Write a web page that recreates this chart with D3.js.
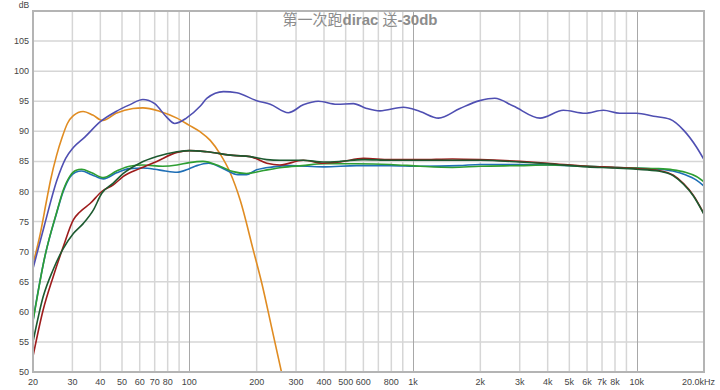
<!DOCTYPE html>
<html>
<head>
<meta charset="utf-8">
<script src="https://cdn.jsdelivr.net/npm/d3@7"></script>
<style>
  html, body { margin: 0; padding: 0; background: #fff; }
  svg { display: block; }
  text { font-family: "Liberation Sans", Arial, sans-serif; }
</style>
</head>
<body>
<div id="chart"></div>
<script>
// frequency response traces (Hz, dB)
const orangeHz = [20, 21.5, 23, 24, 25.5, 27, 28.5, 30.3, 33.5, 37, 41, 47, 56, 62, 74, 88, 100, 112, 124, 137, 152, 169, 193, 211, 233, 260];
const orangeDb = [68, 72.8, 78.5, 82, 86, 89, 91.3, 92.6, 93.3, 92.7, 91.8, 93.0, 93.8, 93.9, 93.3, 92.2, 91.0, 89.9, 88.5, 86.3, 83.2, 78.5, 70.3, 64.7, 57.5, 49.5];

const purpleHz = [20, 22.5, 25.6, 28, 30.3, 34, 40, 47, 54, 62, 70, 79, 86, 97, 112, 120, 142, 163, 200, 230, 277, 323, 377, 456, 541, 621, 711, 906, 1075, 1300, 1620, 1990, 2320, 2810, 3700, 4700, 5880, 7100, 8400, 10000, 11900, 14100, 16200, 18500, 20000];
const purpleDb = [67.2, 74.4, 81.9, 85.5, 87.3, 89.0, 91.6, 93.3, 94.4, 95.3, 94.6, 92.4, 91.3, 92.2, 94.2, 95.5, 96.6, 96.4, 95.1, 94.5, 93.1, 94.4, 95.0, 94.5, 94.6, 93.8, 93.4, 94.0, 93.3, 92.2, 93.8, 95.1, 95.5, 94.2, 92.2, 93.5, 93.0, 93.5, 93.0, 93.0, 92.5, 92.0, 90.2, 87.4, 85.3];

const tealHz = [20, 22.6, 25.5, 27.3, 29.3, 31, 33, 36.6, 41.3, 47.3, 54, 62, 70, 78, 88, 100, 108, 122, 142, 165, 180, 200, 237, 282, 400, 560, 790, 1075, 1600, 2000, 3000, 4000, 6000, 8000, 10000, 12500, 14500, 16500, 18500, 20000];
const tealDb = [58.6, 69.2, 76.4, 80.0, 82.4, 83.2, 83.4, 82.8, 82.1, 83.1, 83.8, 83.9, 83.7, 83.4, 83.2, 83.8, 84.3, 84.7, 83.8, 82.8, 82.8, 83.6, 84.1, 84.3, 84.1, 84.3, 84.3, 84.2, 84.3, 84.5, 84.5, 84.4, 84.2, 84.0, 83.9, 83.7, 83.4, 82.8, 81.9, 80.9];

const greenHz = [20, 22.6, 25.5, 27.3, 29.3, 31, 33, 36.6, 41.3, 47.3, 54, 62, 76, 88, 100, 115, 137, 157, 180, 215, 260, 320, 400, 560, 790, 1075, 1500, 2000, 3000, 4000, 6000, 8000, 10000, 12500, 14500, 16500, 18500, 20000];
const greenDb = [58.4, 69.2, 76.5, 80.2, 82.6, 83.5, 83.7, 83.1, 82.3, 83.4, 84.2, 84.4, 84.2, 84.4, 84.8, 85.0, 84.2, 83.3, 83.0, 83.5, 84.0, 84.3, 84.6, 84.6, 84.5, 84.2, 84.0, 84.2, 84.3, 84.4, 84.2, 84.0, 83.9, 83.8, 83.6, 83.2, 82.5, 81.6];

const redHz = [20, 22.2, 24.6, 27.3, 30.3, 32.4, 36, 40.6, 45.7, 50.7, 60, 71.5, 88, 100, 120, 157, 187, 222, 254, 323, 397, 472, 601, 789, 1075, 1500, 2000, 3000, 4000, 6000, 8000, 10000, 12500, 14600, 16200, 17900, 20000];
const redDb = [52.6, 60.3, 65.8, 70.8, 75.3, 76.6, 78.0, 80.0, 81.1, 82.5, 83.8, 85.0, 86.5, 86.8, 86.6, 86.0, 85.8, 84.7, 84.4, 85.2, 84.7, 84.9, 85.5, 85.3, 85.3, 85.4, 85.3, 85.0, 84.7, 84.2, 84.0, 83.8, 83.5, 82.7, 81.3, 79.4, 76.3];

const darkGreenHz = [20, 22.2, 24.6, 27.3, 30.3, 33.6, 37.2, 40.6, 45.7, 50.7, 60, 71.5, 88, 100, 120, 157, 187, 222, 254, 323, 397, 472, 601, 789, 1075, 1500, 2000, 3000, 4000, 6000, 8000, 10000, 12500, 14600, 16200, 17900, 20000];
const darkGreenDb = [55.0, 62.5, 67.0, 70.5, 73.0, 74.7, 76.9, 79.7, 81.4, 83.0, 84.7, 85.8, 86.6, 86.8, 86.6, 86.0, 85.8, 85.3, 85.2, 85.2, 84.9, 85.0, 85.3, 85.2, 85.2, 85.2, 85.2, 84.9, 84.6, 84.1, 83.9, 83.7, 83.4, 82.6, 81.2, 79.3, 76.2];

// axes
const yTicks = [50, 55, 60, 65, 70, 75, 80, 85, 90, 95, 100, 105];
const xGrid = [30, 40, 50, 60, 70, 80, 90, 200, 300, 400, 500, 600, 700, 800, 900,
               2000, 3000, 4000, 5000, 6000, 7000, 8000, 9000];
const xMajor = [100, 1000, 10000];
const xTickVals = [20, 30, 40, 50, 60, 70, 80, 100, 200, 300, 400, 500, 600, 800, 1000,
                   2000, 3000, 4000, 5000, 6000, 7000, 8000, 10000, 20000];
const xTickText = ['20', '30', '40', '50', '60', '70', '80', '100', '200', '300', '400', '500', '600', '800', '1k',
                   '2k', '3k', '4k', '5k', '6k', '7k', '8k', '10k', '20.0kHz'];

const W = 720, H = 390;
const plotL = 33, plotR = 704, plotT = 11, plotB = 372;

const svg = d3.select('#chart').append('svg')
  .attr('width', W)
  .attr('height', H);

const x = d3.scaleLog().domain([20, 20000]).range([plotL, plotR]);
const y = d3.scaleLinear().domain([50, 110]).range([plotB, plotT]);

svg.append('defs').append('clipPath').attr('id', 'plot-clip')
  .append('rect')
  .attr('x', plotL).attr('y', plotT)
  .attr('width', plotR - plotL).attr('height', plotB - plotT);

// grid
const grid = svg.append('g');
grid.selectAll('line.h').data(yTicks.slice(1))
  .enter().append('line')
  .attr('x1', plotL).attr('x2', plotR)
  .attr('y1', d => y(d)).attr('y2', d => y(d))
  .attr('stroke', '#d6d6d6').attr('stroke-width', 1.5);
grid.selectAll('line.v').data(xGrid)
  .enter().append('line')
  .attr('x1', d => x(d)).attr('x2', d => x(d))
  .attr('y1', plotT).attr('y2', plotB)
  .attr('stroke', '#d6d6d6').attr('stroke-width', 1.5);
grid.selectAll('line.m').data(xMajor)
  .enter().append('line')
  .attr('x1', d => Math.round(x(d)) + 0.5).attr('x2', d => Math.round(x(d)) + 0.5)
  .attr('y1', plotT).attr('y2', plotB)
  .attr('stroke', '#a8a8a8').attr('stroke-width', 1);

// title
const title = svg.append('text')
  .attr('x', 360).attr('y', 25)
  .attr('text-anchor', 'middle')
  .attr('fill', '#8c8c8c')
  .style('font-size', '15px');
title.append('tspan').style('font-family', '"Noto Sans CJK SC", sans-serif').text('第一次跑');
title.append('tspan').style('font-weight', 'bold').text('dirac ');
title.append('tspan').style('font-family', '"Noto Sans CJK SC", sans-serif').text('送');
title.append('tspan').style('font-weight', 'bold').text('-30db');

// curves
const series = [
  { hz: orangeHz, db: orangeDb, color: '#e08c22' },
  { hz: purpleHz, db: purpleDb, color: '#4f4fb2' },
  { hz: tealHz, db: tealDb, color: '#1f6fb6' },
  { hz: greenHz, db: greenDb, color: '#2e9e32' },
  { hz: redHz, db: redDb, color: '#9e1c1c' },
  { hz: darkGreenHz, db: darkGreenDb, color: '#1d5a30' }
];

const line = d3.line()
  .x(d => x(d[0]))
  .y(d => y(d[1]))
  .curve(d3.curveMonotoneX);

svg.append('g').attr('clip-path', 'url(#plot-clip)')
  .selectAll('path').data(series)
  .enter().append('path')
  .attr('d', s => line(s.hz.map((f, i) => [f, s.db[i]])))
  .attr('fill', 'none')
  .attr('stroke', s => s.color)
  .attr('stroke-width', 1.6)
  .attr('stroke-linejoin', 'round');

// frame
svg.append('rect')
  .attr('x', plotL).attr('y', plotT)
  .attr('width', plotR - plotL).attr('height', plotB - plotT)
  .attr('fill', 'none')
  .attr('stroke', '#b4b4b4')
  .attr('stroke-width', 2);

// y labels
svg.append('g').selectAll('text').data(yTicks)
  .enter().append('text')
  .attr('x', 29).attr('y', d => y(d) + 3)
  .attr('text-anchor', 'end')
  .attr('fill', '#444')
  .style('font-size', '9px')
  .text(d => d);

svg.append('text')
  .attr('x', 24).attr('y', 8)
  .attr('text-anchor', 'middle')
  .attr('fill', '#444')
  .style('font-size', '8.5px')
  .text('dB');

// x labels
svg.append('g').selectAll('text').data(xTickVals)
  .enter().append('text')
  .attr('x', (d, i) => i === xTickVals.length - 1 ? 715 : x(d))
  .attr('y', 385)
  .attr('text-anchor', (d, i) => i === xTickVals.length - 1 ? 'end' : 'middle')
  .attr('fill', '#444')
  .style('font-size', '9px')
  .text((d, i) => xTickText[i]);
</script>
</body>
</html>
